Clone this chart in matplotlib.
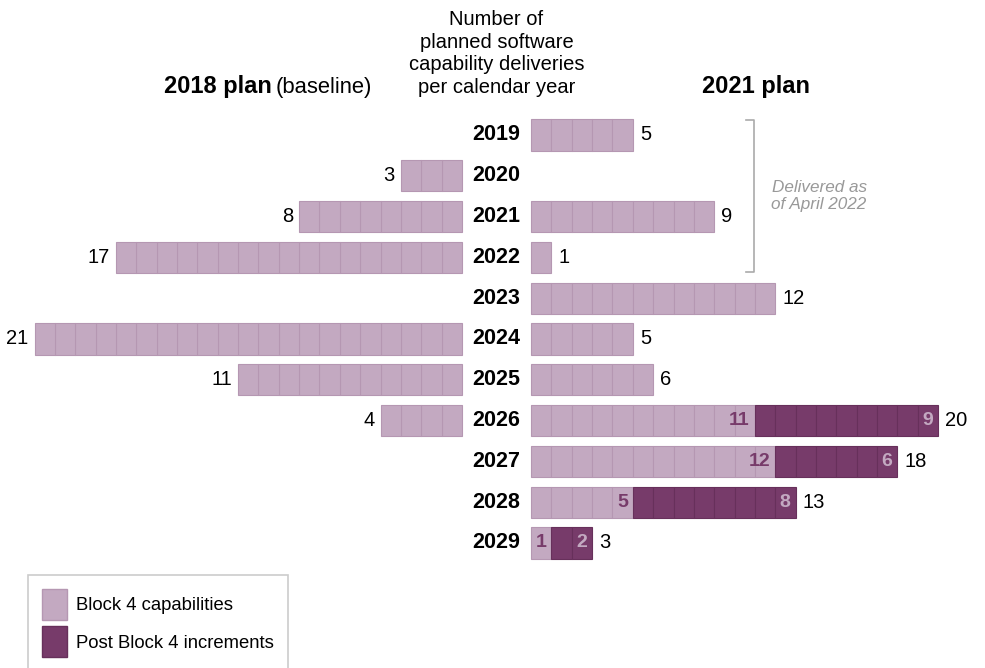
import matplotlib
matplotlib.use("Agg")
import matplotlib.pyplot as plt
from matplotlib.patches import Patch

plt.rcParams['font.family'] = ['Liberation Sans', 'DejaVu Sans']

years = ['2019', '2020', '2021', '2022', '2023', '2024', '2025', '2026', '2027', '2028', '2029']
plan_2018 = [0, 3, 8, 17, 0, 21, 11, 4, 0, 0, 0]
plan_2021_block4 = [5, 0, 9, 1, 12, 5, 6, 11, 12, 5, 1]
plan_2021_post = [0, 0, 0, 0, 0, 0, 0, 9, 6, 8, 2]

light = '#c3a9c1'
light_edge = '#b597b2'
dark = '#773b6a'
dark_edge = '#67305b'

# pixel mapping: x_px = 496.5 + 20.35*x ; y_px = 135 + 40.8*row
gap = 1.7
fig = plt.figure(figsize=(9.85, 6.68), dpi=100)
ax = fig.add_axes([0, 0, 1, 1])
ax.set_xlim(-496.5 / 20.35, (985 - 496.5) / 20.35)
ax.set_ylim((668 - 135) / 40.8, -135 / 40.8)
ax.axis('off')

h = 0.76
for i, yr in enumerate(years):
    # 2018 plan, drawn leftwards one cell at a time
    v = plan_2018[i]
    for k in range(v):
        ax.barh(i, 1, left=-gap - 1 - k, height=h, color=light,
                edgecolor=light_edge, linewidth=0.8)
    if v:
        ax.text(-gap - v - 0.3, i, str(v), ha='right', va='center', fontsize=14.5)

    # 2021 plan
    b = plan_2021_block4[i]
    p = plan_2021_post[i]
    for k in range(b):
        ax.barh(i, 1, left=gap + k, height=h, color=light,
                edgecolor=light_edge, linewidth=0.8)
    for k in range(p):
        ax.barh(i, 1, left=gap + b + k, height=h, color=dark,
                edgecolor=dark_edge, linewidth=0.8)
    tot = b + p
    if tot:
        ax.text(gap + tot + 0.35, i, str(tot), ha='left', va='center', fontsize=14.5)
    if p:
        ax.text(gap + b - 0.25, i, str(b), ha='right', va='center',
                fontsize=14, fontweight='bold', color=dark)
        ax.text(gap + b + p - 0.25, i, str(p), ha='right', va='center',
                fontsize=14, fontweight='bold', color=light)

    ax.text(0, i, yr, ha='center', va='center', fontsize=15.5, fontweight='bold')

# headers
fig.text(496.5 / 985, 1 - 10 / 668,
         'Number of\nplanned software\ncapability deliveries\nper calendar year',
         ha='center', va='top', fontsize=14.5, linespacing=1.25)
fig.text(272 / 985, 1 - 93 / 668, '2018 plan', ha='right', va='baseline',
         fontsize=17, fontweight='bold')
fig.text(372 / 985, 1 - 93 / 668, '(baseline)', ha='right', va='baseline',
         fontsize=15.8)
fig.text(756 / 985, 1 - 93 / 668, '2021 plan', ha='center', va='baseline',
         fontsize=17, fontweight='bold')

# bracket for delivered years
bx = (754 - 496.5) / 20.35
tick = 8 / 20.35
ax.plot([bx - tick, bx, bx, bx - tick], [-0.36, -0.36, 3.36, 3.36],
        color='#aaaaaa', linewidth=1.2)
ax.text(bx + 3.2, 1.5, 'Delivered as\nof April 2022', ha='center', va='center',
        fontsize=12.3, style='italic', color='#999999', linespacing=1.2)

handles = [Patch(facecolor=light, edgecolor=light_edge, label='Block 4 capabilities'),
           Patch(facecolor=dark, edgecolor=dark_edge, label='Post Block 4 increments')]
leg = fig.legend(handles=handles, loc='upper left',
                 bbox_to_anchor=(28 / 985, 1 - 575 / 668), fontsize=13.3,
                 handlelength=1.35, handleheight=2.2, labelspacing=0.35,
                 handletextpad=0.5, borderpad=0.76, borderaxespad=0,
                 fancybox=False, edgecolor='#cccccc', framealpha=1)
leg.get_frame().set_linewidth(1.2)

fig.savefig('out.png', dpi=100)
